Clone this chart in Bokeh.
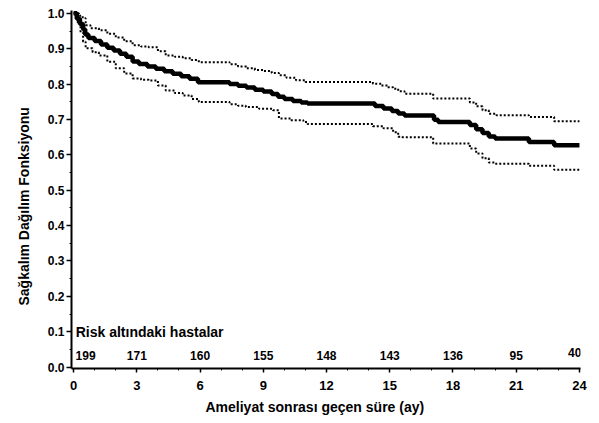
from bokeh.plotting import figure
from bokeh.models import Range1d, FixedTicker, Label, Title
from bokeh.core.properties import value
from bokeh.embed import file_html
from bokeh.resources import INLINE

# Kaplan-Meier estimate (step function, value held from t[i] to t[i+1])
km_t = [0, 0.15, 0.3, 0.45, 0.55, 0.7, 1.0, 1.3, 1.6, 1.9, 2.2, 2.5, 2.8, 3.1, 3.5, 3.9,
        4.3, 4.7, 5.1, 5.5, 5.9, 7.4, 7.8, 8.2, 8.6, 9.0, 9.4, 9.7, 10.0, 10.4, 10.8, 11.1,
        14.3, 14.7, 15.1, 15.4, 15.7, 17.1, 17.3, 18.8, 19.1, 19.4, 19.7, 20.0, 21.6, 22.8, 24.0]
km_s = [1.0, 0.985, 0.97, 0.955, 0.94, 0.93, 0.922, 0.912, 0.903, 0.895, 0.886, 0.877, 0.864,
        0.857, 0.850, 0.843, 0.836, 0.829, 0.822, 0.815, 0.805, 0.800, 0.795, 0.790, 0.784,
        0.779, 0.772, 0.764, 0.758, 0.752, 0.748, 0.745, 0.738, 0.731, 0.724, 0.717, 0.711,
        0.699, 0.693, 0.684, 0.672, 0.662, 0.652, 0.646, 0.636, 0.627, 0.627]

upper_t = [0, 0.25, 0.43, 0.57, 0.8, 1.2, 1.6, 2.0, 2.4, 2.8, 3.2, 3.56, 4.0, 4.37, 4.8, 5.18,
           5.6, 5.94, 7.4, 7.8, 8.2, 8.6, 9.0, 9.4, 9.74, 10.1, 10.55, 11.0, 14.2, 14.6, 14.9,
           15.16, 15.4, 15.7, 17.06, 18.8, 19.1, 19.4, 19.7, 20.06, 21.6, 22.8, 24.0]
upper_s = [1.0, 0.993, 0.986, 0.966, 0.958, 0.952, 0.942, 0.932, 0.921, 0.910, 0.906, 0.904,
           0.893, 0.881, 0.877, 0.873, 0.868, 0.862, 0.856, 0.850, 0.845, 0.840, 0.837, 0.831,
           0.825, 0.818, 0.811, 0.806, 0.801, 0.796, 0.791, 0.787, 0.780, 0.773, 0.759, 0.748,
           0.737, 0.726, 0.716, 0.712, 0.707, 0.695, 0.695]

lower_t = [0, 0.1, 0.2, 0.33, 0.45, 0.57, 0.9, 1.2, 1.6, 2.0, 2.4, 2.8, 3.2, 3.56, 4.0, 4.37,
           4.8, 5.18, 5.6, 5.94, 7.4, 7.8, 8.17, 8.8, 9.46, 9.74, 10.3, 10.9, 11.1, 14.2, 14.7,
           15.16, 15.4, 15.6, 17.06, 18.8, 19.1, 19.4, 19.7, 20.0, 21.6, 22.8, 24.0]
lower_s = [1.0, 0.994, 0.97, 0.946, 0.92, 0.901, 0.89, 0.881, 0.863, 0.845, 0.83, 0.816,
           0.812, 0.81, 0.796, 0.782, 0.775, 0.768, 0.758, 0.749, 0.743, 0.739, 0.735, 0.730,
           0.726, 0.703, 0.698, 0.693, 0.687, 0.681, 0.675, 0.664, 0.651, 0.650, 0.632, 0.618,
           0.604, 0.590, 0.578, 0.575, 0.569, 0.558, 0.558]

risk_months = [0, 3, 6, 9, 12, 15, 18, 21, 24]
risk_counts = ["199", "171", "160", "155", "148", "143", "136", "95", "40"]
x_ticks = [0, 3, 6, 9, 12, 15, 18, 21, 24]
y_ticks = [0.0, 0.1, 0.2, 0.3, 0.4, 0.5, 0.6, 0.7, 0.8, 0.9, 1.0]

FONT = "Liberation Sans"

p = figure(width=593, height=420, output_backend="svg", toolbar_location=None,
           x_range=Range1d(-0.1, 24.05), y_range=Range1d(-0.004, 1.008),
           min_border_left=71, min_border_right=13, min_border_top=10, min_border_bottom=52)
p.outline_line_color = None
p.grid.visible = False
p.background_fill_color = "white"
p.border_fill_color = "white"

p.step(upper_t, upper_s, mode="after", line_color="black", line_width=2, line_dash="2 2")
p.step(lower_t, lower_s, mode="after", line_color="black", line_width=2, line_dash="2 2")
p.step(km_t, km_s, mode="after", line_color="black", line_width=4.5)

# axes
xa = p.xaxis[0]
xa.ticker = FixedTicker(ticks=x_ticks, minor_ticks=list(range(0, 25)))
xa.major_label_overrides = {t: str(t) for t in x_ticks}
ya = p.yaxis[0]
ya.ticker = FixedTicker(ticks=y_ticks, minor_ticks=[i * 0.05 for i in range(21)])
ya.major_label_overrides = {t: f"{t:.1f}" for t in y_ticks}
for ax in (xa, ya):
    ax.axis_line_width = 2
    ax.axis_line_color = "black"
    ax.major_tick_line_width = 1.5
    ax.minor_tick_line_width = 1
    ax.major_tick_in = 0
    ax.minor_tick_in = 0
    ax.major_label_text_font = FONT
    ax.major_label_text_font_style = "bold"
    ax.major_label_text_color = "black"
xa.major_tick_out = 4
xa.minor_tick_out = 2
xa.major_label_standoff = 8
xa.major_label_text_font_size = "13px"
ya.major_tick_out = 5
ya.minor_tick_out = 2
ya.major_label_standoff = 2
ya.major_label_text_font_size = "12px"

# risk table
p.text(x=risk_months[1:-1], y=[0.034] * (len(risk_months) - 2), text=risk_counts[1:-1],
       text_align="center", text_baseline="middle", text_font=value(FONT),
       text_font_style="bold", text_font_size="12px", text_color="black")
p.text(x=[risk_months[0]], y=[0.032], text=[risk_counts[0]], x_offset=2,
       text_align="left", text_baseline="middle", text_font=value(FONT),
       text_font_style="bold", text_font_size="12px", text_color="black")
p.text(x=[risk_months[-1]], y=[0.040], text=[risk_counts[-1]], x_offset=2,
       text_align="right", text_baseline="middle", text_font=value(FONT),
       text_font_style="bold", text_font_size="12px", text_color="black")
p.add_layout(Label(x=0.1, y=0.099, text="Risk altındaki hastalar", text_align="left",
                   text_baseline="middle", text_font=FONT, text_font_style="bold",
                   text_font_size="14px", text_color="black"))

# axis titles
p.add_layout(Title(text="Ameliyat sonrası geçen süre (ay)", align="left", offset=134,
                   standoff=9, text_font=FONT, text_font_style="bold",
                   text_font_size="14px", text_color="black"), "below")
p.add_layout(Title(text="Sağkalım Dağılım Fonksiyonu", align="left", offset=63,
                   standoff=25, text_font=FONT, text_font_style="bold",
                   text_font_size="14px", text_color="black"), "left")

open("out.html", "w").write(file_html(p, INLINE))
